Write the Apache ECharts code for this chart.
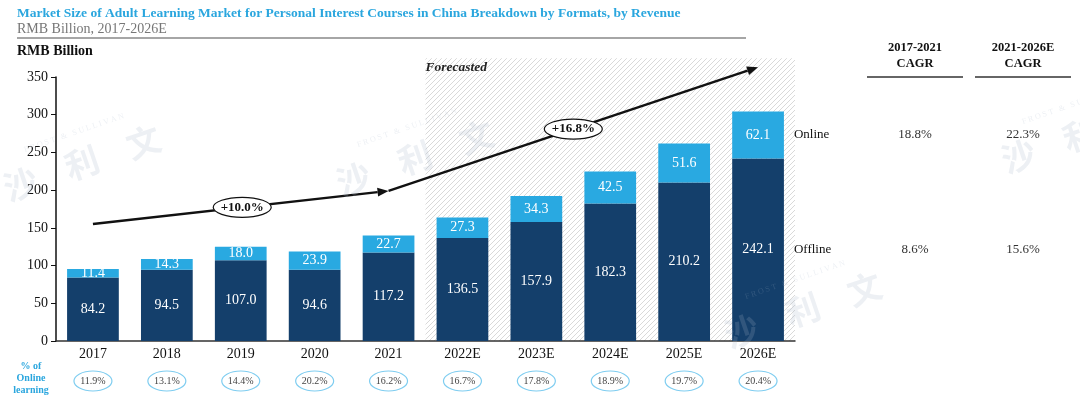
<!DOCTYPE html>
<html><head><meta charset="utf-8">
<script src="https://cdn.jsdelivr.net/npm/echarts@6/dist/echarts.min.js"></script>
<style>html,body{margin:0;padding:0;background:#fff}#c{width:1080px;height:395px}</style>
</head><body><div id="c"></div>
<script>
const categories = ['2017','2018','2019','2020','2021','2022E','2023E','2024E','2025E','2026E'];
const offline = [84.2,94.5,107.0,94.6,117.2,136.5,157.9,182.3,210.2,242.1];
const online = [11.4,14.3,18.0,23.9,22.7,27.3,34.3,42.5,51.6,62.1];
const totals = [95.6,108.8,125.0,118.5,139.9,163.8,192.2,224.8,261.8,304.2];
const onlineShare = ['11.9%','13.1%','14.4%','20.2%','16.2%','16.7%','17.8%','18.9%','19.7%','20.4%'];
const yTicks = [0,50,100,150,200,250,300,350];
const cagrHeaders = ['2017-2021\nCAGR','2021-2026E\nCAGR'];
const cagrOnline = ['18.8%','22.3%'];
const cagrOffline = ['8.6%','15.6%'];
const growthLabels = ['+10.0%','+16.8%'];
// arrow path in data space: [category index, value]
const arrowPath = [[0,155],[4,199],[9,363]];
const forecastStart = 5; // first forecast category index
const forecastTop = 375;

const SERIF = '"Liberation Serif","Times New Roman",serif';
const DARK = '#143f6b', LIGHT = '#29a9e1';

const chart = echarts.init(document.getElementById('c'));
const fmt = p => Number(p.value).toFixed(1);
const option = {
  animation:false,
  textStyle:{fontFamily:SERIF},
  grid:{left:56,right:285,top:77,bottom:54,containLabel:false},
  xAxis:{type:'category',data:categories,
    axisLine:{lineStyle:{color:'#333',width:1.5}},axisTick:{show:false},
    axisLabel:{color:'#111',fontSize:14,fontFamily:SERIF,margin:6}},
  yAxis:{type:'value',min:yTicks[0],max:yTicks[yTicks.length-1],interval:50,
    axisLine:{show:true,lineStyle:{color:'#111',width:1.5}},
    axisTick:{show:true,length:5,lineStyle:{color:'#111'}},
    splitLine:{show:false},
    axisLabel:{color:'#111',fontSize:14,fontFamily:SERIF,margin:8}},
  series:[
    {name:'Offline',type:'bar',stack:'t',data:offline,barWidth:'70%',z:3,
     itemStyle:{color:DARK},
     label:{show:true,position:'inside',color:'#fff',fontSize:14,fontFamily:SERIF,formatter:fmt}},
    {name:'Online',type:'bar',stack:'t',data:online,barWidth:'70%',z:3,
     itemStyle:{color:LIGHT},
     label:{show:true,position:'inside',color:'#fff',fontSize:14,fontFamily:SERIF,formatter:fmt}},
    {name:'Total',type:'line',data:totals,symbol:'none',lineStyle:{opacity:0},z:4,
     label:{show:true,position:'top',distance:4,color:'#111',fontSize:13,fontFamily:SERIF,formatter:fmt}}
  ]
};
chart.setOption(option);

function P(i,v){return chart.convertToPixel({gridIndex:0},[i,v]);}
const g = [];
// hatch pattern
const pc = document.createElement('canvas'); pc.width=5; pc.height=5;
const px = pc.getContext('2d'); px.strokeStyle='#cfcfcf'; px.lineWidth=0.8;
px.beginPath(); px.moveTo(-1,6); px.lineTo(6,-1); px.moveTo(-1,1); px.lineTo(1,-1); px.moveTo(4,6); px.lineTo(6,4); px.stroke();
const c4 = P(forecastStart-1,0), c5 = P(forecastStart,0);
const band = c5[0]-c4[0];
const hx0 = c5[0]-band/2;
const hx1 = P(categories.length-1,0)[0]+band/2;
const hy0 = P(0,forecastTop)[1], hy1 = P(0,0)[1];
g.push({type:'rect',z:0,shape:{x:hx0,y:hy0,width:hx1-hx0,height:hy1-hy0},style:{fill:{image:pc,repeat:'repeat'}}});
g.push({type:'text',z:5,x:hx0,y:hy0+9,style:{text:'Forecasted',font:'italic bold 13.5px '+SERIF,fill:'#222',textVerticalAlign:'middle'}});

// header texts
g.push({type:'text',x:17,y:14,style:{text:'Market Size of Adult Learning Market for Personal Interest Courses in China Breakdown by Formats, by Revenue',font:'bold 13.5px '+SERIF,fill:'#2aa6de',textVerticalAlign:'middle'}});
g.push({type:'text',x:17,y:29,style:{text:'RMB Billion, 2017-2026E',font:'14px '+SERIF,fill:'#777',textVerticalAlign:'middle'}});
g.push({type:'line',shape:{x1:17,y1:38,x2:746,y2:38},style:{stroke:'#888',lineWidth:1.5}});
g.push({type:'text',x:17,y:51,style:{text:'RMB Billion',font:'bold 14px '+SERIF,fill:'#111',textVerticalAlign:'middle'}});

// watermarks
const WM = 'rgba(165,180,198,0.2)';
[[82,163],[415,158],[803,310],[1080,135]].forEach(([x,y])=>{
  g.push({type:'text',z:9,silent:true,x:x,y:y,rotation:0.33,style:{text:'沙    利    文',font:'bold 34px "Noto Sans CJK SC"',fill:WM,textAlign:'center',textVerticalAlign:'middle'}});
  g.push({type:'text',z:9,silent:true,x:x-8,y:y-30,rotation:0.33,style:{text:'F R O S T   &   S U L L I V A N',font:'8px '+SERIF,fill:WM,textAlign:'center',textVerticalAlign:'middle'}});
});

// arrows
const pts = arrowPath.map(a=>P(a[0],a[1]));
function arrow(a,b){
  const ang=Math.atan2(b[1]-a[1],b[0]-a[0]);
  const L=11,W=4.5;
  const bx=b[0]-L*Math.cos(ang), by=b[1]-L*Math.sin(ang);
  g.push({type:'line',z:6,shape:{x1:a[0],y1:a[1],x2:bx,y2:by},style:{stroke:'#111',lineWidth:2.5}});
  g.push({type:'polygon',z:6,shape:{points:[[b[0],b[1]],[bx-W*Math.sin(ang),by+W*Math.cos(ang)],[bx+W*Math.sin(ang),by-W*Math.cos(ang)]]},style:{fill:'#111'}});
}
arrow(pts[0],pts[1]); arrow(pts[1],pts[2]);
const lbl = [[0.505,0.45],[0.5,0.5]];
for(let k=0;k<2;k++){
  const a=pts[k],b=pts[k+1];
  const t=lbl[k][0];
  const cx=a[0]+(b[0]-a[0])*t, cy=a[1]+(b[1]-a[1])*t;
  g.push({type:'ellipse',z:7,shape:{cx:cx,cy:cy,rx:29,ry:10},style:{fill:'#fff',stroke:'#111',lineWidth:1.2}});
  g.push({type:'text',z:8,x:cx,y:cy,style:{text:growthLabels[k],font:'bold 13px '+SERIF,fill:'#111',textAlign:'center',textVerticalAlign:'middle'}});
}

// online share row
g.push({type:'text',x:31,y:378,style:{text:'% of\nOnline\nlearning',font:'bold 10px '+SERIF,fill:'#2aa6de',textAlign:'center',textVerticalAlign:'middle',lineHeight:12}});
categories.forEach((c,i)=>{
  const x=P(i,0)[0];
  g.push({type:'ellipse',shape:{cx:x,cy:381,rx:19,ry:10},style:{fill:'#fff',stroke:'#7fcdf0',lineWidth:1.2}});
  g.push({type:'text',x:x,y:381,style:{text:onlineShare[i],font:'10px '+SERIF,fill:'#444',textAlign:'center',textVerticalAlign:'middle'}});
});

// CAGR table
const colX=[915,1023];
cagrHeaders.forEach((h,k)=>{
  g.push({type:'text',x:colX[k],y:56,style:{text:h,font:'bold 12.5px '+SERIF,fill:'#111',textAlign:'center',textVerticalAlign:'middle',lineHeight:16}});
  g.push({type:'line',shape:{x1:colX[k]-48,y1:77,x2:colX[k]+48,y2:77},style:{stroke:'#333',lineWidth:1.5}});
});
const last=categories.length-1;
const yOn = P(last,offline[last]+online[last]/2)[1];
const yOff = P(last,offline[last]/2)[1];
const xr = P(last,0)[0]+band*0.35+10;
g.push({type:'text',x:xr,y:yOn,style:{text:'Online',font:'13px '+SERIF,fill:'#111',textVerticalAlign:'middle'}});
g.push({type:'text',x:xr,y:yOff,style:{text:'Offline',font:'13px '+SERIF,fill:'#111',textVerticalAlign:'middle'}});
cagrOnline.forEach((v,k)=>g.push({type:'text',x:colX[k],y:yOn,style:{text:v,font:'13px '+SERIF,fill:'#333',textAlign:'center',textVerticalAlign:'middle'}}));
cagrOffline.forEach((v,k)=>g.push({type:'text',x:colX[k],y:yOff,style:{text:v,font:'13px '+SERIF,fill:'#333',textAlign:'center',textVerticalAlign:'middle'}}));

chart.setOption({graphic:{elements:g}});
</script></body></html>
